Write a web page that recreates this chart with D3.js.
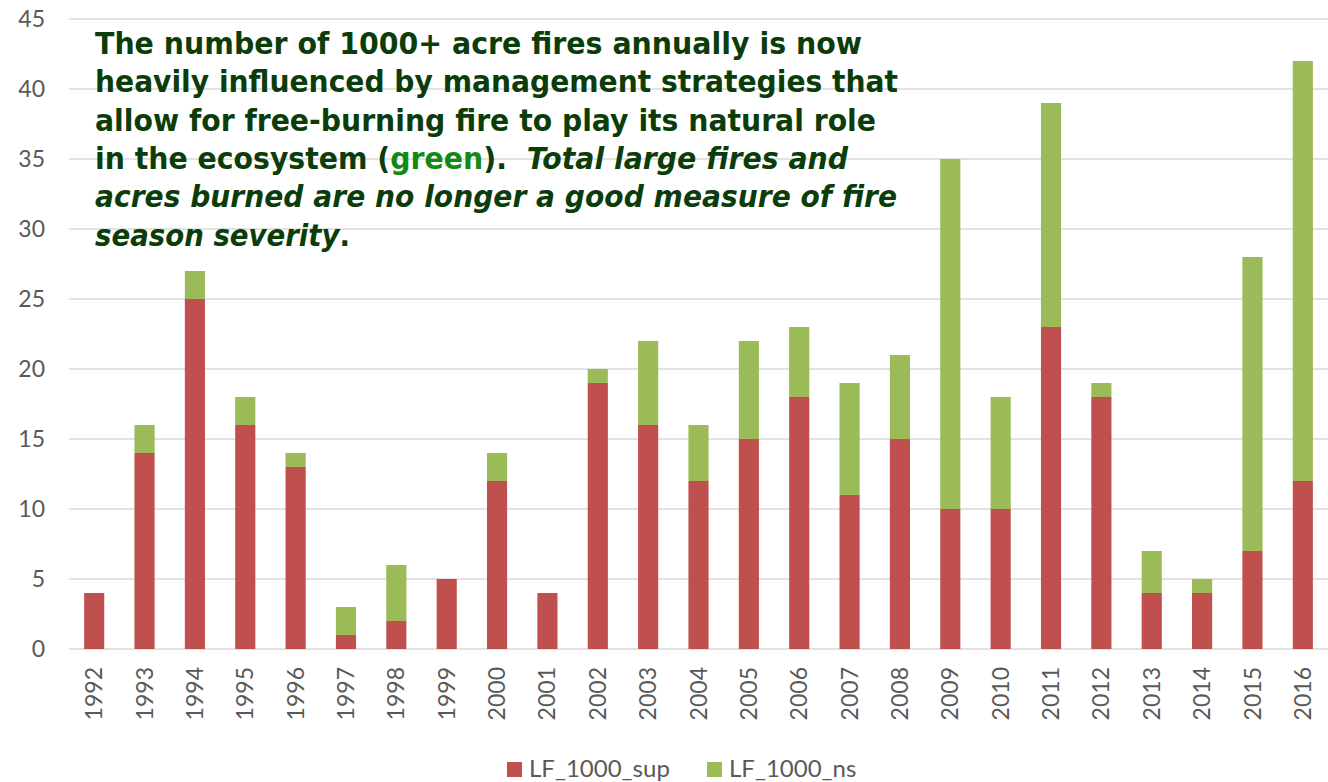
<!DOCTYPE html>
<html>
<head>
<meta charset="utf-8">
<script src="https://cdn.jsdelivr.net/npm/d3@7"></script>
<style>
  body { margin: 0; background: #fff; }
  svg { display: block; }
</style>
</head>
<body>
<div id="container-chart"></div>
<script>
const years = ["1992","1993","1994","1995","1996","1997","1998","1999","2000","2001","2002","2003","2004",
  "2005","2006","2007","2008","2009","2010","2011","2012","2013","2014","2015","2016"];
const supValues = [4,14,25,16,13,1,2,5,12,4,19,16,12,15,18,11,15,10,10,23,18,4,4,7,12];
const nsValues  = [0,2,2,2,1,2,4,0,2,0,1,6,4,7,5,8,6,25,8,16,1,3,1,21,30];
const yTicks = [0,5,10,15,20,25,30,35,40,45];
const seriesNames = ["LF_1000_sup", "LF_1000_ns"];
const seriesColors = ["#c0504d", "#9bbb59"];

const W = 1328, H = 782;
const margin = {top: 19, right: 0, bottom: 133, left: 69};
const width = W - margin.left - margin.right;
const height = H - margin.top - margin.bottom;
const labelFont = "Lato, 'Open Sans', sans-serif";

const svg = d3.select("#container-chart").append("svg")
  .attr("width", W).attr("height", H);
const g = svg.append("g")
  .attr("transform", "translate(" + margin.left + "," + margin.top + ")");

const table = years.map((y, i) => ({year: y, LF_1000_sup: supValues[i], LF_1000_ns: nsValues[i]}));
const stacked = d3.stack().keys(seriesNames)(table);

const x = d3.scaleBand().domain(years).range([0, width]).paddingInner(0.6).paddingOuter(0.3);
const y = d3.scaleLinear().domain([0, 45]).range([height, 0]);

// gridlines
g.append("g").selectAll("line").data(yTicks).join("line")
  .attr("x1", 0).attr("x2", width)
  .attr("y1", d => y(d)).attr("y2", d => y(d))
  .attr("stroke", "#d9d9d9").attr("stroke-width", 1.3);

// y axis labels
const yAxis = g.append("g").attr("transform", "translate(-24,0)")
  .call(d3.axisLeft(y).tickValues(yTicks).tickSize(0).tickPadding(0));
yAxis.select(".domain").remove();
yAxis.selectAll("text").attr("font-family", labelFont)
  .attr("font-size", 23).attr("fill", "#595959");

// bars
g.append("g").selectAll("g").data(stacked).join("g")
  .attr("fill", (d, i) => seriesColors[i])
  .selectAll("rect").data(d => d).join("rect")
  .attr("x", d => x(d.data.year))
  .attr("width", x.bandwidth())
  .attr("y", d => y(d[1]))
  .attr("height", d => y(d[0]) - y(d[1]));

// x axis labels
const xAxis = g.append("g").attr("transform", "translate(0," + height + ")")
  .call(d3.axisBottom(x).tickSize(0).tickPadding(0));
xAxis.select(".domain").remove();
xAxis.selectAll("text")
  .attr("font-family", labelFont)
  .attr("font-size", 23).attr("fill", "#595959")
  .attr("transform", "rotate(-90)")
  .attr("text-anchor", "end")
  .attr("x", -18).attr("y", 0).attr("dy", "0.35em");

// legend
const legend = svg.append("g").attr("transform", "translate(507,762)");
const legendX = [0, 200];
seriesNames.forEach((name, i) => {
  const lg = legend.append("g").attr("transform", "translate(" + legendX[i] + ",0)");
  lg.append("rect").attr("width", 15).attr("height", 15).attr("fill", seriesColors[i]);
  lg.append("text").attr("x", 22).attr("y", 15)
    .attr("font-family", labelFont)
    .attr("font-size", 24).attr("fill", "#595959").text(name);
});

// annotation
const dark = "#0b3d0b";
const noteLines = [
  {w: 767, parts: [{t: "The number of 1000+ acre fires annually is now"}]},
  {w: 803, parts: [{t: "heavily influenced by management strategies that"}]},
  {w: 781, parts: [{t: "allow for free-burning fire to play its natural role"}]},
  {w: 753, parts: [{t: "in the ecosystem ("}, {t: "green", c: "#138a13"}, {t: ").  "}, {t: "Total large fires and", it: true}]},
  {w: 802, parts: [{t: "acres burned are no longer a good measure of fire", it: true}]},
  {w: 255, parts: [{t: "season severity", it: true}, {t: "."}]}
];
const note = svg.append("g").attr("transform", "translate(95,0)");
noteLines.forEach((ln, i) => {
  const t = note.append("text")
    .attr("x", 0).attr("y", 54 + i * 38.3)
    .attr("font-family", "'DejaVu Sans', Verdana, sans-serif")
    .attr("font-weight", "bold").attr("font-size", 31)
    .attr("fill", dark)
    .attr("textLength", ln.w).attr("lengthAdjust", "spacingAndGlyphs")
    .attr("xml:space", "preserve");
  ln.parts.forEach(p => {
    t.append("tspan").text(p.t)
      .attr("fill", p.c || dark)
      .attr("font-style", p.it ? "italic" : "normal");
  });
});
</script>
</body>
</html>
